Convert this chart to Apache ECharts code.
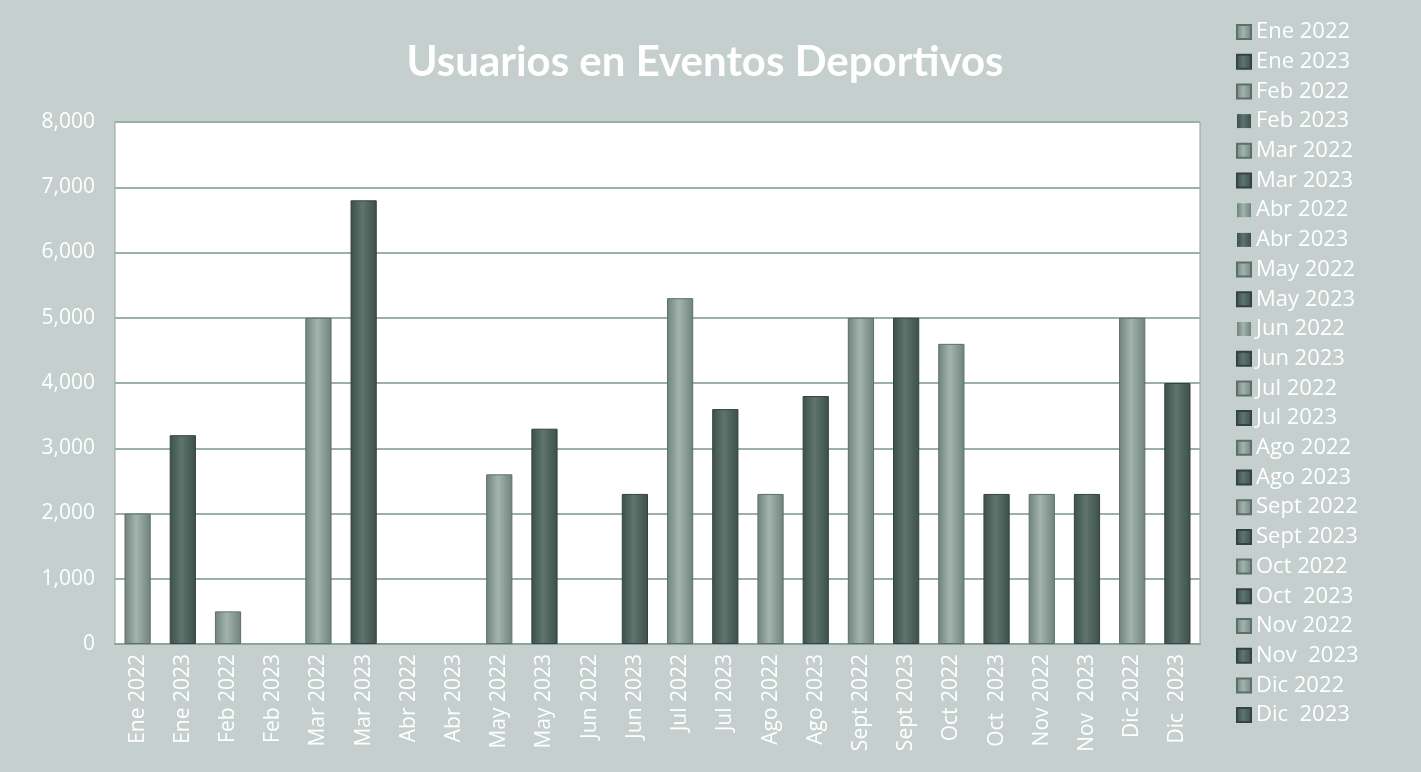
<!DOCTYPE html>
<html>
<head>
<meta charset="utf-8">
<script src="https://cdn.jsdelivr.net/npm/echarts@6/dist/echarts.min.js"></script>
<style>
  html, body { margin: 0; padding: 0; background: #c4cfce; }
  #chart { width: 1421px; height: 772px; }
</style>
</head>
<body>
<div id="chart"></div>
<script>
// 类目（同时作为图例）
const categories = [
  'Ene 2022', 'Ene 2023', 'Feb 2022', 'Feb 2023', 'Mar 2022', 'Mar 2023',
  'Abr 2022', 'Abr 2023', 'May 2022', 'May 2023', 'Jun 2022', 'Jun 2023',
  'Jul 2022', 'Jul 2023', 'Ago 2022', 'Ago 2023', 'Sept 2022', 'Sept 2023',
  'Oct 2022', 'Oct  2023', 'Nov 2022', 'Nov  2023', 'Dic 2022', 'Dic  2023'
];
const usuarios = [
  2000, 3200, 500, 0, 5000, 6800,
  0, 0, 2600, 3300, 0, 2300,
  5300, 3600, 2300, 3800, 5000, 5000,
  4600, 2300, 2300, 2300, 5000, 4000
];
const yTicks = [0, 1000, 2000, 3000, 4000, 5000, 6000, 7000, 8000];

const chart = echarts.init(document.getElementById('chart'));

function barColor(i) {
  const light = i % 2 === 0;
  const edge = light ? '#6f827c' : '#3d4f4a';
  const mid = light ? '#a3b4ae' : '#5f746e';
  return new echarts.graphic.LinearGradient(0, 0, 1, 0, [
    { offset: 0, color: edge },
    { offset: 0.45, color: mid },
    { offset: 1, color: edge }
  ]);
}

// 每个类目一个系列，堆叠以保持居中
const series = categories.map((name, i) => ({
  name: name,
  type: 'bar',
  stack: 'all',
  barWidth: '58%',
  data: categories.map((c, j) => (j === i ? usuarios[i] : '-')),
  itemStyle: {
    color: barColor(i),
    borderColor: i % 2 === 0 ? '#5d6f6a' : '#33433f',
    borderWidth: usuarios[i] > 0 ? 1 : 0,
  },
}));

chart.setOption({
  backgroundColor: '#c4cfce',
  animation: false,
  color: categories.map((c, i) => (i % 2 === 0 ? '#889b95' : '#4a5d58')),
  title: {
    text: 'Usuarios en Eventos Deportivos',
    left: 700,
    textAlign: 'center',
    top: 36,
    textStyle: { color: '#ffffff', fontSize: 42, fontWeight: 'bold', fontFamily: 'Lato' },
  },
  legend: {
    orient: 'vertical',
    left: 1231,
    top: 16,
    itemGap: 7.7,
    itemWidth: 14,
    itemHeight: 14,
    icon: 'rect',
    textStyle: { color: '#ffffff', fontSize: 22, lineHeight: 22, fontFamily: 'Open Sans', padding: [0, 0, 0, 0] },
    data: categories,
  },
  grid: { left: 115, right: 221, top: 122, bottom: 128, show: true, backgroundColor: '#ffffff', borderColor: '#8fa39d', borderWidth: 1 },
  xAxis: {
    type: 'category',
    data: categories,
    axisLine: { lineStyle: { color: '#8fa39d', width: 2 } },
    axisTick: { show: false },
    axisLabel: { color: '#ffffff', fontSize: 21, fontFamily: 'Open Sans', rotate: 90, margin: 10 },
  },
  yAxis: {
    type: 'value',
    min: yTicks[0],
    max: yTicks[yTicks.length - 1],
    interval: 1000,
    axisLine: { show: false },
    axisTick: { show: false },
    splitLine: { lineStyle: { color: '#9cb0aa', width: 2 } },
    axisLabel: {
      color: '#ffffff', fontSize: 21, fontFamily: 'Open Sans', margin: 20,
      formatter: v => v.toLocaleString('en-US'),
    },
  },
  series: series,
});
</script>
</body>
</html>
